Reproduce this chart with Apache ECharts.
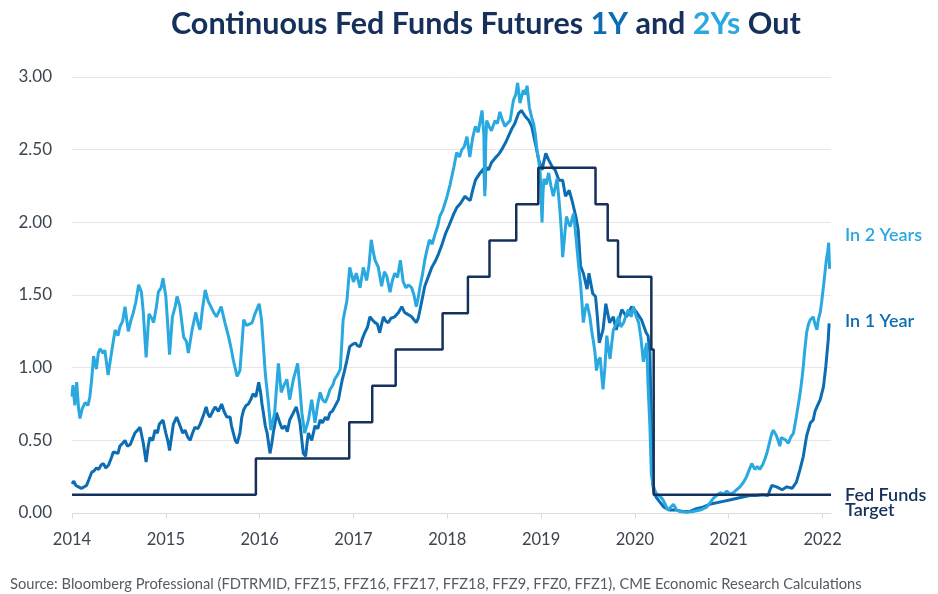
<!DOCTYPE html>
<html>
<head>
<meta charset="utf-8">
<script src="https://cdn.jsdelivr.net/npm/echarts@6/dist/echarts.min.js"></script>
<style>html,body{margin:0;padding:0;background:#fff}#c{width:938px;height:594px}</style>
</head>
<body>
<div id="c"></div>
<script>
// ---- Data (decimal years, values in %) ----
const yearTicks = [2014, 2015, 2016, 2017, 2018, 2019, 2020, 2021, 2022];
const yTicks = [0, 0.5, 1, 1.5, 2, 2.5, 3];

const x2Y = [2014.00,2014.01,2014.03,2014.05,2014.07,2014.085,2014.11,2014.14,2014.17,2014.19,2014.21,2014.23,2014.26,2014.28,2014.30,2014.33,2014.35,2014.385,2014.42,2014.44,2014.46,2014.49,2014.51,2014.54,2014.565,2014.60,2014.63,2014.65,2014.68,2014.71,2014.74,2014.76,2014.79,2014.82,2014.85,2014.87,2014.90,2014.92,2014.95,2014.97,2015.00,2015.02,2015.04,2015.07,2015.10,2015.12,2015.15,2015.19,2015.22,2015.24,2015.28,2015.32,2015.345,2015.365,2015.39,2015.42,2015.45,2015.48,2015.51,2015.54,2015.59,2015.63,2015.67,2015.70,2015.72,2015.76,2015.79,2015.81,2015.83,2015.86,2015.89,2015.92,2015.95,2015.995,2016.02,2016.04,2016.06,2016.09,2016.12,2016.16,2016.20,2016.23,2016.26,2016.29,2016.32,2016.36,2016.405,2016.43,2016.45,2016.48,2016.52,2016.555,2016.59,2016.62,2016.645,2016.67,2016.70,2016.725,2016.75,2016.78,2016.80,2016.83,2016.86,2016.89,2016.93,2016.96,2017.00,2017.03,2017.07,2017.105,2017.14,2017.165,2017.19,2017.21,2017.23,2017.265,2017.30,2017.33,2017.355,2017.39,2017.415,2017.44,2017.47,2017.50,2017.53,2017.56,2017.585,2017.62,2017.645,2017.67,2017.69,2017.71,2017.735,2017.76,2017.78,2017.81,2017.84,2017.87,2017.90,2017.92,2017.95,2017.99,2018.03,2018.07,2018.10,2018.13,2018.155,2018.18,2018.21,2018.24,2018.27,2018.30,2018.33,2018.37,2018.39,2018.40,2018.41,2018.42,2018.445,2018.47,2018.51,2018.535,2018.56,2018.59,2018.615,2018.64,2018.67,2018.705,2018.73,2018.75,2018.775,2018.79,2018.81,2018.83,2018.85,2018.875,2018.90,2018.92,2018.94,2018.955,2018.975,2018.99,2019.01,2019.02,2019.03,2019.055,2019.08,2019.105,2019.13,2019.15,2019.17,2019.20,2019.215,2019.23,2019.25,2019.27,2019.29,2019.31,2019.345,2019.36,2019.38,2019.40,2019.42,2019.435,2019.45,2019.47,2019.49,2019.52,2019.54,2019.56,2019.575,2019.59,2019.61,2019.63,2019.645,2019.66,2019.68,2019.70,2019.72,2019.735,2019.75,2019.77,2019.80,2019.825,2019.85,2019.88,2019.905,2019.93,2019.96,2019.985,2020.01,2020.04,2020.065,2020.09,2020.11,2020.125,2020.14,2020.16,2020.175,2020.19,2020.21,2020.23,2020.25,2020.275,2020.30,2020.33,2020.355,2020.38,2020.41,2020.445,2020.48,2020.55,2020.62,2020.695,2020.73,2020.765,2020.80,2020.835,2020.87,2020.91,2020.945,2020.98,2021.015,2021.05,2021.085,2021.12,2021.155,2021.19,2021.22,2021.245,2021.28,2021.305,2021.33,2021.36,2021.385,2021.41,2021.44,2021.46,2021.475,2021.51,2021.545,2021.56,2021.58,2021.61,2021.635,2021.66,2021.69,2021.72,2021.74,2021.76,2021.78,2021.795,2021.81,2021.83,2021.85,2021.87,2021.90,2021.92,2021.94,2021.955,2021.975,2021.99,2022.01,2022.025,2022.04,2022.055,2022.065,2022.075];
const v2Y = [0.80,0.88,0.74,0.90,0.72,0.65,0.72,0.76,0.74,0.80,0.92,1.08,0.99,1.10,1.13,1.10,1.12,0.95,1.10,1.18,1.26,1.22,1.28,1.32,1.42,1.25,1.33,1.37,1.45,1.57,1.52,1.38,1.07,1.37,1.34,1.31,1.42,1.52,1.55,1.615,1.49,1.30,1.09,1.35,1.42,1.49,1.42,1.21,1.18,1.10,1.26,1.38,1.30,1.26,1.40,1.535,1.46,1.42,1.38,1.35,1.42,1.31,1.21,1.12,1.05,0.94,0.98,1.15,1.33,1.29,1.30,1.31,1.37,1.44,1.33,1.15,0.96,0.78,0.57,0.69,1.03,0.83,0.88,0.92,0.78,0.92,1.03,0.85,0.69,0.55,0.64,0.78,0.62,0.75,0.83,0.78,0.76,0.80,0.85,0.88,0.92,0.95,0.99,1.33,1.46,1.69,1.59,1.65,1.55,1.69,1.60,1.70,1.88,1.80,1.74,1.69,1.56,1.66,1.63,1.52,1.60,1.65,1.62,1.74,1.59,1.55,1.57,1.55,1.50,1.42,1.48,1.56,1.64,1.74,1.80,1.88,1.85,1.92,1.98,2.04,2.08,2.16,2.26,2.38,2.48,2.45,2.50,2.52,2.59,2.45,2.58,2.66,2.62,2.77,2.60,2.18,2.55,2.70,2.66,2.63,2.70,2.68,2.76,2.70,2.66,2.68,2.70,2.84,2.88,2.96,2.82,2.86,2.91,2.88,2.94,2.79,2.72,2.68,2.60,2.50,2.42,2.34,2.00,2.20,2.30,2.26,2.34,2.25,2.18,2.24,2.30,2.085,1.95,1.76,1.90,2.04,2.00,1.97,2.06,1.98,1.84,1.70,1.58,1.45,1.31,1.40,1.44,1.35,1.25,1.17,1.10,0.98,1.05,1.07,0.95,0.85,1.00,1.22,1.12,1.06,1.15,1.26,1.30,1.35,1.28,1.31,1.36,1.40,1.35,1.42,1.36,1.31,1.20,1.04,1.12,1.17,0.88,0.59,0.27,0.20,0.16,0.13,0.14,0.11,0.09,0.05,0.02,0.04,0.06,0.02,0.01,0.005,0.01,0.02,0.03,0.04,0.07,0.10,0.12,0.14,0.13,0.15,0.13,0.14,0.16,0.18,0.21,0.25,0.30,0.34,0.30,0.32,0.30,0.33,0.37,0.42,0.50,0.55,0.57,0.53,0.46,0.52,0.53,0.50,0.48,0.52,0.55,0.66,0.74,0.82,0.92,1.01,1.12,1.24,1.30,1.33,1.35,1.30,1.26,1.33,1.38,1.45,1.56,1.65,1.74,1.80,1.86,1.68];

const x1Y = [2014.00,2014.02,2014.04,2014.07,2014.10,2014.13,2014.155,2014.18,2014.21,2014.235,2014.26,2014.285,2014.31,2014.335,2014.36,2014.39,2014.42,2014.44,2014.46,2014.49,2014.51,2014.54,2014.565,2014.59,2014.62,2014.645,2014.67,2014.70,2014.725,2014.76,2014.79,2014.81,2014.83,2014.86,2014.885,2014.91,2014.93,2014.97,2015.00,2015.02,2015.04,2015.06,2015.08,2015.115,2015.14,2015.16,2015.18,2015.205,2015.235,2015.26,2015.285,2015.31,2015.34,2015.365,2015.40,2015.43,2015.45,2015.47,2015.50,2015.525,2015.56,2015.595,2015.62,2015.65,2015.685,2015.70,2015.72,2015.74,2015.76,2015.79,2015.81,2015.83,2015.855,2015.88,2015.905,2015.93,2015.96,2015.99,2016.01,2016.025,2016.04,2016.06,2016.08,2016.11,2016.13,2016.145,2016.165,2016.18,2016.215,2016.24,2016.27,2016.295,2016.32,2016.36,2016.39,2016.41,2016.43,2016.45,2016.465,2016.49,2016.505,2016.52,2016.555,2016.59,2016.62,2016.645,2016.67,2016.70,2016.725,2016.75,2016.775,2016.80,2016.84,2016.86,2016.88,2016.905,2016.93,2016.96,2016.99,2017.02,2017.045,2017.07,2017.095,2017.12,2017.15,2017.175,2017.20,2017.23,2017.255,2017.28,2017.30,2017.32,2017.345,2017.37,2017.40,2017.44,2017.48,2017.515,2017.545,2017.57,2017.595,2017.62,2017.645,2017.67,2017.69,2017.71,2017.735,2017.76,2017.80,2017.835,2017.87,2017.905,2017.94,2017.98,2018.02,2018.07,2018.10,2018.14,2018.19,2018.22,2018.245,2018.27,2018.30,2018.35,2018.39,2018.40,2018.41,2018.44,2018.47,2018.52,2018.55,2018.58,2018.63,2018.685,2018.72,2018.76,2018.79,2018.83,2018.87,2018.90,2018.94,2018.975,2019.01,2019.03,2019.05,2019.08,2019.12,2019.15,2019.19,2019.23,2019.26,2019.30,2019.33,2019.37,2019.395,2019.42,2019.45,2019.49,2019.51,2019.55,2019.58,2019.60,2019.62,2019.66,2019.69,2019.73,2019.77,2019.80,2019.83,2019.86,2019.91,2019.965,2020.02,2020.07,2020.12,2020.14,2020.16,2020.175,2020.19,2020.205,2020.225,2020.26,2020.31,2020.37,2020.44,2020.51,2020.58,2020.655,2020.725,2020.795,2020.87,2020.94,2021.01,2021.08,2021.15,2021.225,2021.295,2021.365,2021.42,2021.44,2021.46,2021.51,2021.57,2021.62,2021.675,2021.72,2021.76,2021.795,2021.83,2021.87,2021.90,2021.92,2021.94,2021.975,2022.01,2022.035,2022.06,2022.07];
const v1Y = [0.20,0.22,0.19,0.18,0.17,0.18,0.19,0.23,0.28,0.29,0.31,0.30,0.33,0.34,0.31,0.33,0.38,0.42,0.43,0.41,0.46,0.48,0.50,0.46,0.47,0.51,0.55,0.57,0.59,0.48,0.35,0.45,0.52,0.50,0.57,0.55,0.61,0.64,0.55,0.50,0.43,0.52,0.61,0.66,0.62,0.61,0.55,0.57,0.52,0.50,0.55,0.59,0.58,0.61,0.67,0.73,0.68,0.66,0.70,0.73,0.70,0.75,0.70,0.66,0.66,0.60,0.55,0.50,0.48,0.55,0.66,0.71,0.74,0.75,0.78,0.82,0.80,0.90,0.83,0.75,0.69,0.60,0.55,0.41,0.48,0.55,0.62,0.69,0.62,0.58,0.60,0.56,0.64,0.69,0.73,0.68,0.62,0.50,0.41,0.39,0.48,0.55,0.50,0.60,0.58,0.64,0.62,0.66,0.64,0.69,0.70,0.73,0.78,0.85,0.915,0.98,1.05,1.145,1.16,1.17,1.15,1.145,1.20,1.24,1.28,1.35,1.33,1.31,1.30,1.24,1.30,1.35,1.32,1.31,1.34,1.35,1.38,1.42,1.38,1.37,1.36,1.35,1.33,1.31,1.34,1.40,1.48,1.56,1.63,1.69,1.73,1.78,1.84,1.92,1.98,2.06,2.10,2.13,2.18,2.16,2.15,2.22,2.29,2.34,2.37,2.22,2.38,2.36,2.41,2.45,2.47,2.50,2.56,2.64,2.68,2.75,2.77,2.73,2.70,2.66,2.54,2.43,2.36,2.42,2.475,2.43,2.38,2.36,2.29,2.29,2.18,2.22,2.15,2.04,1.95,1.70,1.65,1.54,1.65,1.51,1.49,1.35,1.17,1.26,1.44,1.31,1.35,1.26,1.33,1.40,1.35,1.42,1.38,1.33,1.24,1.22,1.10,0.59,0.20,0.14,0.11,0.08,0.04,0.02,0.02,0.01,0.01,0.03,0.04,0.06,0.07,0.08,0.09,0.10,0.11,0.12,0.12,0.125,0.12,0.16,0.19,0.18,0.16,0.18,0.17,0.21,0.30,0.39,0.53,0.62,0.64,0.70,0.73,0.78,0.87,1.01,1.19,1.305];

const xFed = [2014.00,2015.96,2016.955,2017.20,2017.45,2017.95,2018.22,2018.45,2018.735,2018.97,2019.58,2019.71,2019.82,2020.175,2020.20,2022.09];
const vFed = [0.125,0.375,0.625,0.875,1.125,1.375,1.625,1.875,2.125,2.375,2.125,1.875,1.625,1.125,0.125,0.125];

// ---- Styles ----
const C_LIGHT = '#29a9e0', C_DARK = '#0d6db3', C_NAVY = '#15305a', C_TXT = '#3b4552';
const FONT = 'Lato';

function pairs(xs, vs) { return xs.map((x, i) => [x, vs[i]]); }

const chart = echarts.init(document.getElementById('c'), null, { renderer: 'canvas' });
chart.setOption({
  animation: false,
  backgroundColor: '#fff',
  textStyle: { fontFamily: FONT },
  title: {
    left: 166, top: 4,
    text: '{a|Continuous Fed Funds Futures }{b|1Y}{a| and }{c|2Ys}{a| Out}',
    textStyle: {
      rich: {
        a: { fontFamily: FONT, fontWeight: 'bold', fontSize: 30.5, color: C_NAVY },
        b: { fontFamily: FONT, fontWeight: 'bold', fontSize: 30.5, color: C_DARK },
        c: { fontFamily: FONT, fontWeight: 'bold', fontSize: 30.5, color: C_LIGHT }
      }
    }
  },
  grid: { left: 72, right: 107, top: 77, bottom: 81, containLabel: false },
  xAxis: {
    type: 'value', min: 2014, max: 2022.09,
    axisLine: { show: true, lineStyle: { color: '#dcdcdc', width: 1 } },
    axisTick: { show: true, length: 6, lineStyle: { color: '#dcdcdc' }, customValues: yearTicks },
    axisLabel: { customValues: yearTicks, color: C_TXT, fontSize: 16.5, fontFamily: FONT, margin: 18, formatter: v => String(Math.round(v)) },
    splitLine: { show: false }
  },
  yAxis: {
    type: 'value', min: 0, max: 3, interval: 0.5,
    axisLine: { show: false }, axisTick: { show: false },
    axisLabel: { color: C_TXT, fontSize: 17, fontFamily: FONT, margin: 20, formatter: v => v.toFixed(2) },
    splitLine: { lineStyle: { color: '#e6e6e6', width: 1 } }
  },
  series: [
    { name: 'In 1 Year', type: 'line', data: pairs(x1Y, v1Y), showSymbol: false, lineStyle: { color: C_DARK, width: 3 }, z: 2 },
    { name: 'In 2 Years', type: 'line', data: pairs(x2Y, v2Y), showSymbol: false, lineStyle: { color: C_LIGHT, width: 3 }, z: 3 },
    { name: 'Fed Funds Target', type: 'line', step: 'end', data: pairs(xFed, vFed), showSymbol: false, lineStyle: { color: C_NAVY, width: 2.5 }, z: 4 }
  ],
  graphic: [
    { type: 'text', left: 845, top: 226, style: { text: 'In 2 Years', fill: C_LIGHT, font: '600 18px ' + FONT } },
    { type: 'text', left: 845, top: 312, style: { text: 'In 1 Year', fill: C_DARK, font: '600 18px ' + FONT } },
    { type: 'text', left: 845, top: 486, style: { text: 'Fed Funds\nTarget', fill: C_NAVY, font: '600 18px ' + FONT, lineHeight: 15 } },
    { type: 'text', left: 10, top: 577, style: { text: 'Source: Bloomberg Professional (FDTRMID, FFZ15, FFZ16, FFZ17, FFZ18, FFZ9, FFZ0, FFZ1), CME Economic Research Calculations', fill: '#555b63', font: '14.7px ' + FONT } }
  ]
});
</script>
</body>
</html>
